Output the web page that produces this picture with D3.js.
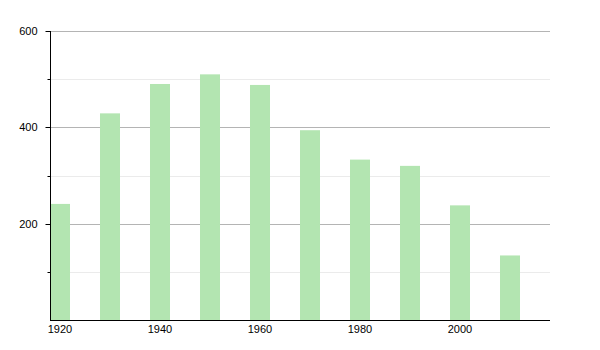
<!DOCTYPE html>
<html>
<head>
<meta charset="utf-8">
<script src="https://cdn.jsdelivr.net/npm/d3@7"></script>
<style>
  body { margin: 0; background: #fff; }
  svg text { font-family: "Liberation Sans", Arial, sans-serif; font-size: 11px; fill: #000; }
</style>
</head>
<body>
<svg id="chart" width="600" height="350"></svg>
<script>
const years = [1920, 1930, 1940, 1950, 1960, 1970, 1980, 1990, 2000, 2010]
const values = [241, 429, 490, 510, 488, 394, 333, 320, 238, 134]
const xTicks = [1920, 1940, 1960, 1980, 2000]
const majorTicks = [200, 400, 600]
const minorTicks = [100, 300, 500]

const svg = d3.select('#chart')
const padding = { left: 50, right: 50, top: 31, bottom: 30 }

const x = d3.scaleLinear()
    .domain([1918, 2018])
    .range([padding.left, 600 - padding.right])

const y = d3.scaleLinear()
    .domain([0, 600])
    .range([350 - padding.bottom, padding.top])

// minor grid lines
svg.append('g')
    .selectAll('line')
    .data(minorTicks)
    .join('line')
    .attr('x1', padding.left)
    .attr('x2', 600 - padding.right)
    .attr('y1', d => Math.round(y(d)) + 0.5)
    .attr('y2', d => Math.round(y(d)) + 0.5)
    .attr('stroke', '#ebebeb')

// major grid lines
svg.append('g')
    .selectAll('line')
    .data(majorTicks)
    .join('line')
    .attr('x1', padding.left)
    .attr('x2', 600 - padding.right)
    .attr('y1', d => Math.round(y(d)) + 0.5)
    .attr('y2', d => Math.round(y(d)) + 0.5)
    .attr('stroke', '#b4b4b4')

// bars
const barWidth = x(1922) - x(1918)
const defs = svg.append('defs')
defs.append('filter')
    .attr('id', 'soft')
    .append('feGaussianBlur')
    .attr('stdDeviation', '0.6 0.3')

svg.append('g')
    .selectAll('rect')
    .data(years)
    .join('rect')
    .attr('x', (d) => x(d) - barWidth / 2)
    .attr('y', (d, i) => y(values[i]))
    .attr('width', barWidth)
    .attr('height', (d, i) => y(0) - y(values[i]))
    .attr('fill', '#b3e5b1')
    .attr('filter', 'url(#soft)')

// y axis
const yAxis = svg.append('g')
    .attr('transform', `translate(${padding.left + 0.5},0)`)
yAxis.append('line')
    .attr('y1', y(600))
    .attr('y2', y(0))
    .attr('stroke', '#000')
yAxis.selectAll('.major')
    .data(majorTicks)
    .join('line')
    .attr('x1', -5)
    .attr('x2', 0)
    .attr('y1', d => Math.round(y(d)) + 0.5)
    .attr('y2', d => Math.round(y(d)) + 0.5)
    .attr('stroke', '#000')
yAxis.selectAll('.minor')
    .data(minorTicks)
    .join('line')
    .attr('x1', -3)
    .attr('x2', 0)
    .attr('y1', d => Math.round(y(d)) + 0.5)
    .attr('y2', d => Math.round(y(d)) + 0.5)
    .attr('stroke', '#000')
yAxis.selectAll('text')
    .data(majorTicks)
    .join('text')
    .attr('x', -13)
    .attr('y', d => y(d) + 4)
    .attr('text-anchor', 'end')
    .text(d => d)

// x axis
const xAxis = svg.append('g')
    .attr('transform', `translate(0,${Math.round(y(0)) + 0.5})`)
xAxis.append('line')
    .attr('x1', padding.left)
    .attr('x2', 600 - padding.right)
    .attr('stroke', '#000')
xAxis.selectAll('text')
    .data(xTicks)
    .join('text')
    .attr('x', d => x(d))
    .attr('y', 12)
    .attr('text-anchor', 'middle')
    .text(d => d)
</script>
</body>
</html>
